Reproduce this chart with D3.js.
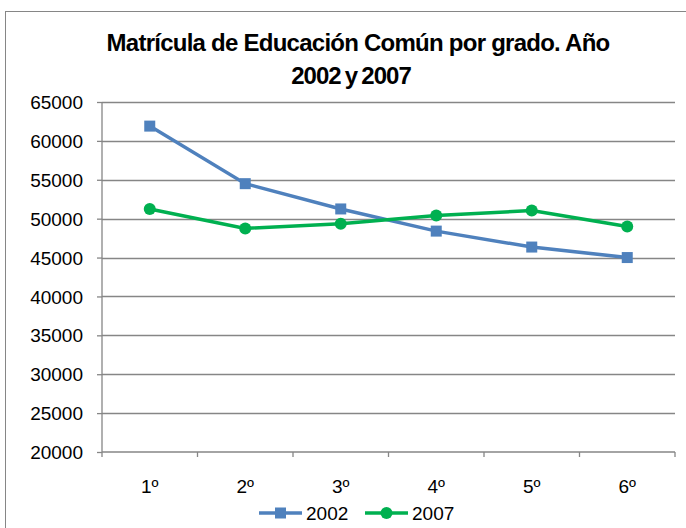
<!DOCTYPE html>
<html>
<head>
<meta charset="utf-8">
<script src="https://cdn.jsdelivr.net/npm/d3@7"></script>
<style>
  body { margin: 0; background: #fff; }
  text { font-family: "Liberation Sans", Arial, sans-serif; fill: #000; }
</style>
</head>
<body>
<div id="chart"></div>
<script>
// datos
var grados = ["1º", "2º", "3º", "4º", "5º", "6º"];
var serie2002 = [61900, 54500, 51250, 48400, 46350, 45000];
var serie2007 = [51250, 48750, 49350, 50400, 51050, 49000];
var yTicks = [20000, 25000, 30000, 35000, 40000, 45000, 50000, 55000, 60000, 65000];

var width = 686;
var height = 528;
var plot = { left: 102, right: 675, top: 102, bottom: 452 };

var blue = "#4F81BD";
var green = "#00B050";
var gray = "#868686";

var svg = d3.select("#chart")
  .append("svg")
  .attr("width", width)
  .attr("height", height);

// borde del grafico
svg.append("rect")
  .attr("x", 5.5)
  .attr("y", 11.5)
  .attr("width", 700)
  .attr("height", 540)
  .attr("fill", "none")
  .attr("stroke", gray)
  .attr("stroke-width", 1);

// titulo
var title = svg.append("text")
  .attr("text-anchor", "middle")
  .style("font-weight", "bold")
  .style("font-size", "24px");
title.append("tspan").attr("x", 358).attr("y", 51)
  .style("letter-spacing", "-0.75px")
  .text("Matrícula de Educación Común por grado. Año");
title.append("tspan").attr("x", 351).attr("y", 84)
  .style("letter-spacing", "-1px")
  .style("word-spacing", "-1.5px")
  .text("2002 y 2007");

var xScale = d3.scaleBand()
  .domain(grados)
  .range([plot.left, plot.right]);

var yScale = d3.scaleLinear()
  .domain([20000, 65000])
  .range([plot.bottom, plot.top]);

// lineas de cuadricula
svg.append("g")
  .selectAll("line")
  .data(yTicks.slice(1))
  .enter()
  .append("line")
  .attr("x1", plot.left)
  .attr("x2", plot.right)
  .attr("y1", function(d) { return Math.round(yScale(d)) + 0.5; })
  .attr("y2", function(d) { return Math.round(yScale(d)) + 0.5; })
  .attr("stroke", gray)
  .attr("stroke-width", 1.3);

// eje y
var yAxis = d3.axisLeft(yScale)
  .tickValues(yTicks)
  .tickSize(5)
  .tickPadding(14)
  .tickFormat(d3.format("d"));

var gy = svg.append("g")
  .attr("transform", "translate(" + plot.left + ",0)")
  .call(yAxis);
gy.selectAll("path, line").attr("stroke", gray).attr("stroke-width", 1.3);
gy.select("path").attr("d", "M0," + plot.top + "V" + plot.bottom);
gy.selectAll("text")
  .style("font-size", "19px")
  .attr("dy", "0.35em");

// eje x
var xAxis = d3.axisBottom(xScale)
  .tickSize(0)
  .tickPadding(28);

var gx = svg.append("g")
  .attr("transform", "translate(0," + plot.bottom + ")")
  .call(xAxis);
gx.select("path").attr("stroke", gray).attr("stroke-width", 1.3)
  .attr("d", "M" + plot.left + ",0H" + plot.right);
gx.selectAll("text").style("font-size", "19px");

// marcas entre categorias
var bordes = grados.map(function(g) { return xScale(g); }).concat([plot.right]);
gx.selectAll(".borde")
  .data(bordes)
  .enter()
  .append("line")
  .attr("class", "borde")
  .attr("x1", function(d) { return d; })
  .attr("x2", function(d) { return d; })
  .attr("y1", 0)
  .attr("y2", 5)
  .attr("stroke", gray)
  .attr("stroke-width", 1.3);

function cx(d, i) { return xScale(grados[i]) + xScale.bandwidth() / 2; }

var line = d3.line()
  .x(function(d, i) { return cx(d, i); })
  .y(function(d) { return yScale(d); });

// serie 2002
svg.append("path")
  .datum(serie2002)
  .attr("d", line)
  .attr("fill", "none")
  .attr("stroke", blue)
  .attr("stroke-width", 3.5);

svg.append("g")
  .selectAll("rect")
  .data(serie2002)
  .enter()
  .append("rect")
  .attr("x", function(d, i) { return cx(d, i) - 5.5; })
  .attr("y", function(d) { return yScale(d) - 5.5; })
  .attr("width", 11)
  .attr("height", 11)
  .attr("fill", blue);

// serie 2007
svg.append("path")
  .datum(serie2007)
  .attr("d", line)
  .attr("fill", "none")
  .attr("stroke", green)
  .attr("stroke-width", 3.5);

svg.append("g")
  .selectAll("circle")
  .data(serie2007)
  .enter()
  .append("circle")
  .attr("cx", function(d, i) { return cx(d, i); })
  .attr("cy", function(d) { return yScale(d); })
  .attr("r", 6)
  .attr("fill", green);

// leyenda
var legend = svg.append("g").attr("transform", "translate(0,513)");

legend.append("line")
  .attr("x1", 259).attr("x2", 302)
  .attr("stroke", blue).attr("stroke-width", 3.5);
legend.append("rect")
  .attr("x", 275).attr("y", -5.5).attr("width", 11).attr("height", 11)
  .attr("fill", blue);
legend.append("text")
  .attr("x", 306).attr("dy", "0.35em")
  .style("font-size", "19px")
  .text("2002");

legend.append("line")
  .attr("x1", 365).attr("x2", 408)
  .attr("stroke", green).attr("stroke-width", 3.5);
legend.append("circle")
  .attr("cx", 386.5).attr("r", 6)
  .attr("fill", green);
legend.append("text")
  .attr("x", 412).attr("dy", "0.35em")
  .style("font-size", "19px")
  .text("2007");
</script>
</body>
</html>
